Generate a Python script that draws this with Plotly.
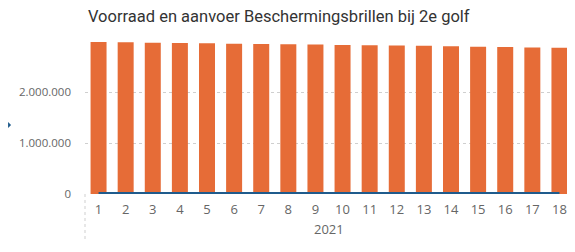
import plotly.graph_objects as go

weeks = [1, 2, 3, 4, 5, 6, 7, 8, 9, 10, 11, 12, 13, 14, 15, 16, 17, 18]
voorraad = [2980000, 2975000, 2968000, 2960000, 2954000, 2948000, 2942000, 2936000, 2930000,
            2924000, 2918000, 2912000, 2905000, 2898000, 2890000, 2882000, 2875000, 2868000]
aanvoer = [0, 0, 0, 0, 0, 0, 0, 0, 0, 0, 0, 0, 0, 0, 0, 0, 0, 0]
y_ticks = [0, 1000000, 2000000]
y_labels = ["0", "1.000.000", "2.000.000"]
x_title = "2021"

fig = go.Figure()
fig.add_trace(go.Bar(x=weeks, y=voorraad, marker_color="#E66C37", marker_line_width=0, name="Voorraad"))
fig.add_trace(go.Scatter(x=weeks, y=aanvoer, mode="lines", line=dict(color="#1F5B8C", width=4), name="Aanvoer"))

# page has an 8px body margin; figure sized/offset to compensate
W, H = 567, 244
L, T, B, R = 77, 32, 58, 1.5
PW = W - L - R
PH = H - T - B
fig.update_layout(
    width=W, height=H,
    margin=dict(l=L, r=R, t=T, b=B, autoexpand=False),
    paper_bgcolor="white", plot_bgcolor="white",
    showlegend=False, bargap=0.41,
    title=dict(text="Voorraad en aanvoer Beschermingsbrillen bij 2e golf",
               x=3 / PW, xref="paper", xanchor="left", y=1 - 8/H, yref="container", yanchor="middle",
               font=dict(family="Roboto", size=16.5, color="#333333")),
    xaxis=dict(range=[0.5, 18.5], tickmode="array", tickvals=weeks, ticktext=[str(w) for w in weeks],
               showgrid=False, zeroline=False, showline=False, automargin=False, ticklabelstandoff=6,
               tickfont=dict(family="Open Sans", size=13, color="#666666")),
    yaxis=dict(range=[0, 3020000], tickmode="array", tickvals=y_ticks, ticktext=y_labels,
               showgrid=True, gridcolor="#cfcfcf", griddash="dot", gridwidth=1, automargin=False,
               zeroline=False, showline=False, ticklabelstandoff=13,
               tickfont=dict(family="Open Sans", size=11.5, color="#666666")),
)

fig.add_annotation(text=x_title, xref="paper", yref="paper", x=0.5, y=-35/PH, yanchor="middle",
                   showarrow=False, font=dict(family="Open Sans", size=13, color="#666666"))

# dotted vertical line below axis
fig.add_shape(type="line", xref="paper", yref="paper", x0=0, x1=0, y0=0, y1=-46/PH,
              line=dict(color="#cfcfcf", width=1, dash="dot"))
# small arrow at left edge
fig.add_shape(type="path", xref="paper", yref="paper",
              path=f"M {-L/PW} {1-(122-40)/PH} L {(-L+3)/PW} {1-(125-40)/PH} L {-L/PW} {1-(128-40)/PH} Z",
              fillcolor="#1F5B8C", line_width=0)

fig.write_html("out.html")
